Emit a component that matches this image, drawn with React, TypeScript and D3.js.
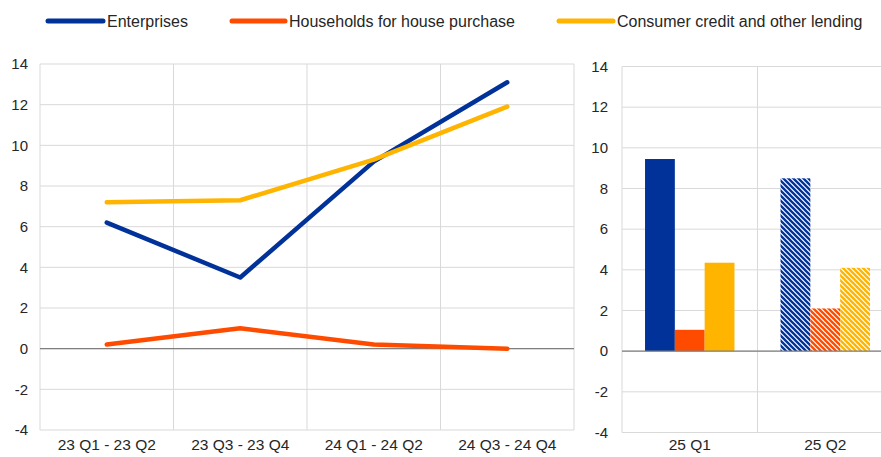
import React from "react";
import * as d3 from "d3";

const categories = ["23 Q1 - 23 Q2", "23 Q3 - 23 Q4", "24 Q1 - 24 Q2", "24 Q3 - 24 Q4"];
const enterprises = [6.2, 3.5, 9.2, 13.1];
const households = [0.2, 1.0, 0.2, 0.0];
const consumer = [7.2, 7.3, 9.3, 11.9];

const barCategories = ["25 Q1", "25 Q2"];
const barEnterprises = [9.45, 8.5];
const barHouseholds = [1.05, 2.1];
const barConsumer = [4.35, 4.1];

const yTicks = [-4, -2, 0, 2, 4, 6, 8, 10, 12, 14];
const seriesNames = ["Enterprises", "Households for house purchase", "Consumer credit and other lending"];
const colors = ["#003299", "#ff4b00", "#ffb400"];

const W = 881;
const H = 457;
const FONT = "'Liberation Sans', Arial, sans-serif";
const TEXT = "#262626";
const GRID = "#d9d9d9";

export default function App() {
  // Left panel
  const L = { x0: 40, x1: 574, y0: 64, y1: 430 };
  const xL = d3.scalePoint<string>().domain(categories).range([L.x0, L.x1]).padding(0.5);
  const yL = d3.scaleLinear().domain([-4, 14]).range([L.y1, L.y0]);
  const stepL = xL.step();

  // Right panel
  const R = { x0: 622, x1: 893, y0: 66.5, y1: 432.5 };
  const xR = d3.scaleBand<string>().domain(barCategories).range([R.x0, R.x1]).paddingInner(0.34).paddingOuter(0.17);
  const yR = d3.scaleLinear().domain([-4, 14]).range([R.y1, R.y0]);
  const inner = d3.scaleBand<number>().domain([0, 1, 2]).range([0, xR.bandwidth()]);
  const stepR = xR.step();

  const lineSeries = [enterprises, households, consumer];
  const barSeries = [barEnterprises, barHouseholds, barConsumer];

  const line = d3
    .line<number>()
    .x((_, i) => xL(categories[i]) as number)
    .y((d) => yL(d));

  const legendItems = [
    { x1: 48, x2: 103, tx: 107 },
    { x1: 232, x2: 285, tx: 289 },
    { x1: 559, x2: 613, tx: 617 },
  ];

  return (
    <svg
      width={W}
      height={H}
      style={{ position: "absolute", left: 0, top: 0, background: "#fff" }}
      fontFamily={FONT}
    >
      <defs>
        {colors.map((c, i) => (
          <pattern key={i} id={`hatch${i}`} patternUnits="userSpaceOnUse" width={5} height={5}>
            <rect width={5} height={5} fill="#fff" />
            <path d="M0,0 L5,5 M-2.5,2.5 L2.5,7.5 M2.5,-2.5 L7.5,2.5" stroke={c} strokeWidth={2.3} />
          </pattern>
        ))}
      </defs>
      <rect width={W} height={H} fill="#fff" />

      {/* Legend */}
      {legendItems.map((it, i) => (
        <g key={i}>
          <line x1={it.x1} x2={it.x2} y1={21} y2={21} stroke={colors[i]} strokeWidth={5} strokeLinecap="round" />
          <text x={it.tx} y={21} dy="0.35em" fontSize={16} fill={TEXT}>
            {seriesNames[i]}
          </text>
        </g>
      ))}

      {/* Left panel grid */}
      <g>
        {yTicks.map((t) => (
          <line key={t} x1={L.x0} x2={L.x1} y1={yL(t)} y2={yL(t)} stroke={GRID} strokeWidth={1} />
        ))}
        {d3.range(categories.length + 1).map((i) => (
          <line key={i} x1={L.x0 + i * stepL} x2={L.x0 + i * stepL} y1={L.y0} y2={L.y1} stroke={GRID} strokeWidth={1} />
        ))}
        <line x1={L.x0} x2={L.x1} y1={yL(0)} y2={yL(0)} stroke="#7f7f7f" strokeWidth={1.2} />
        {yTicks.map((t) => (
          <text key={t} x={28} y={yL(t)} dy="0.35em" textAnchor="end" fontSize={15} fill={TEXT}>
            {t}
          </text>
        ))}
        {categories.map((c) => (
          <text key={c} x={xL(c)} y={445} dy="0.35em" textAnchor="middle" fontSize={15.5} fill={TEXT}>
            {c}
          </text>
        ))}
        {lineSeries.map((s, i) => (
          <path
            key={i}
            d={line(s) || ""}
            fill="none"
            stroke={colors[i]}
            strokeWidth={4.5}
            strokeLinecap="round"
            strokeLinejoin="round"
          />
        ))}
      </g>

      {/* Right panel */}
      <g>
        {yTicks.map((t) => (
          <line key={t} x1={R.x0} x2={R.x1} y1={yR(t)} y2={yR(t)} stroke={GRID} strokeWidth={1} />
        ))}
        {d3.range(barCategories.length + 1).map((i) => (
          <line key={i} x1={R.x0 + i * stepR} x2={R.x0 + i * stepR} y1={R.y0} y2={R.y1} stroke={GRID} strokeWidth={1} />
        ))}
        {yTicks.map((t) => (
          <text key={t} x={608} y={yR(t)} dy="0.35em" textAnchor="end" fontSize={15} fill={TEXT}>
            {t}
          </text>
        ))}
        {barCategories.map((c) => (
          <text key={c} x={(xR(c) as number) + xR.bandwidth() / 2} y={445} dy="0.35em" textAnchor="middle" fontSize={15.5} fill={TEXT}>
            {c}
          </text>
        ))}
        {barCategories.map((c, ci) =>
          barSeries.map((s, si) => {
            const v = s[ci];
            const x = (xR(c) as number) + (inner(si) as number);
            return (
              <rect
                key={`${ci}-${si}`}
                x={x}
                y={yR(Math.max(0, v))}
                width={inner.bandwidth()}
                height={Math.abs(yR(v) - yR(0))}
                fill={ci === 0 ? colors[si] : `url(#hatch${si})`}
              />
            );
          })
        )}
        <line x1={R.x0} x2={R.x1} y1={yR(0)} y2={yR(0)} stroke="#7f7f7f" strokeWidth={1.2} />
      </g>
    </svg>
  );
}
